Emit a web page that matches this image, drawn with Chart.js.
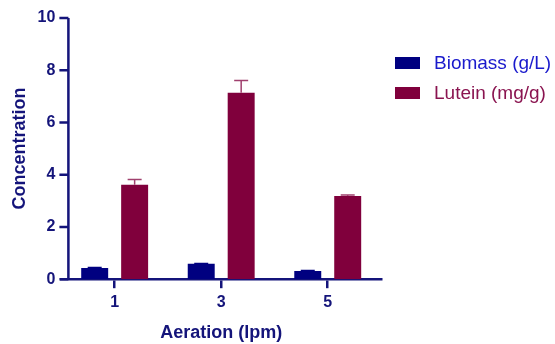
<!DOCTYPE html>
<html>
<head>
<meta charset="utf-8">
<script src="https://cdn.jsdelivr.net/npm/chart.js@4/dist/chart.umd.min.js"></script>
<style>
  html, body { margin: 0; padding: 0; background: #fff; }
  #wrap { width: 555px; height: 344px; }
</style>
</head>
<body>
<div id="wrap"><canvas id="myChart" width="555" height="344"></canvas></div>
<script>
const aeration = ['1', '3', '5']
const biomass = [0.43, 0.59, 0.31]
const biomassErr = [0.02, 0.01, 0.02]
const lutein = [3.62, 7.14, 3.19]
const luteinErr = [0.2, 0.47, 0.03]
const yTicks = [0, 2, 4, 6, 8, 10]

const navy = '#000080'
const axisColor = '#14147a'
const maroon = '#80003c'
const fontFamily = 'Liberation Sans, Arial, sans-serif'

// error bars (upper whisker only), y axis a bit right of the x axis start, and the legend
const extras = {
  id: 'extras',
  afterDatasetsDraw(chart) {
    const ctx = chart.ctx
    const y = chart.scales.y
    chart.data.datasets.forEach((ds, i) => {
      const meta = chart.getDatasetMeta(i)
      meta.data.forEach((bar, j) => {
        const top = y.getPixelForValue(ds.data[j] + ds.errors[j])
        ctx.save()
        ctx.strokeStyle = ds.errorColor
        ctx.lineWidth = 1.5
        ctx.beginPath()
        ctx.moveTo(bar.x, bar.y)
        ctx.lineTo(bar.x, top)
        ctx.moveTo(bar.x - 7, top)
        ctx.lineTo(bar.x + 7, top)
        ctx.stroke()
        ctx.restore()
      })
    })
  },
  afterDraw(chart) {
    const ctx = chart.ctx
    const y = chart.scales.y
    const x0 = chart.chartArea.left + 7
    ctx.save()
    ctx.strokeStyle = axisColor
    ctx.lineWidth = 2.5
    ctx.beginPath()
    ctx.moveTo(x0, y.getPixelForValue(10))
    ctx.lineTo(x0, y.getPixelForValue(0))
    yTicks.forEach(v => {
      const py = y.getPixelForValue(v)
      ctx.moveTo(chart.chartArea.left - 2, py)
      ctx.lineTo(x0, py)
    })
    ctx.stroke()

    // legend
    const lx = 395
    ctx.font = '19px ' + fontFamily
    ctx.textBaseline = 'middle'
    ctx.textAlign = 'left'
    chart.data.datasets.forEach((ds, i) => {
      const cy = 63 + i * 30
      ctx.fillStyle = ds.backgroundColor
      ctx.fillRect(lx, cy - 6, 25, 12)
      ctx.fillStyle = ds.textColor
      ctx.fillText(ds.label, lx + 39, cy + 1)
    })
    ctx.restore()
  }
}

const ctx = document.getElementById('myChart').getContext('2d')

new Chart(ctx, {
  type: 'bar',
  data: {
    labels: aeration,
    datasets: [
      {
        label: 'Biomass (g/L)',
        data: biomass,
        errors: biomassErr,
        errorColor: navy,
        backgroundColor: navy,
        textColor: '#1a1acc',
        barPercentage: 0.675,
        categoryPercentage: 0.75
      },
      {
        label: 'Lutein (mg/g)',
        data: lutein,
        errors: luteinErr,
        errorColor: '#a0406e',
        backgroundColor: maroon,
        textColor: '#8a1450',
        barPercentage: 0.675,
        categoryPercentage: 0.75
      }
    ]
  },
  options: {
    responsive: false,
    animation: false,
    layout: { padding: { top: 18, right: 174, left: 9, bottom: 0 } },
    plugins: {
      tooltip: { enabled: false },
      legend: { display: false }
    },
    scales: {
      x: {
        grid: {
          display: true,
          drawOnChartArea: false,
          drawTicks: true,
          tickLength: 9,
          offset: false,
          color: axisColor,
          lineWidth: 2.5
        },
        border: { display: true, color: axisColor, width: 2.5 },
        ticks: {
          color: axisColor,
          padding: 5,
          font: { family: fontFamily, size: 16, weight: 'bold' }
        },
        title: {
          display: true,
          text: 'Aeration (lpm)',
          color: axisColor,
          padding: { top: 5, bottom: 0 },
          font: { family: fontFamily, size: 18, weight: 'bold' }
        }
      },
      y: {
        min: 0,
        max: 10,
        afterBuildTicks(axis) {
          axis.ticks = yTicks.map(v => ({ value: v }))
        },
        grid: { display: false, drawTicks: false },
        border: { display: false },
        ticks: {
          color: axisColor,
          padding: 6,
          font: { family: fontFamily, size: 16, weight: 'bold' }
        },
        title: {
          display: true,
          text: 'Concentration',
          color: axisColor,
          padding: { top: 0, bottom: 1 },
          font: { family: fontFamily, size: 18, weight: 'bold' }
        }
      }
    }
  },
  plugins: [extras]
})
</script>
</body>
</html>
